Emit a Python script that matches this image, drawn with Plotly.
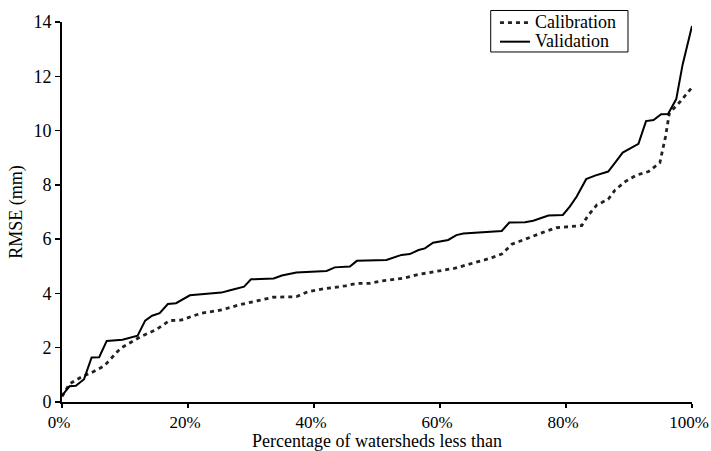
import plotly.graph_objects as go

# Calibration series (percentage of watersheds, RMSE mm)
cal_pct = [0, 1.2, 3.2, 4.5, 6.7, 9.3, 12.5, 14.9, 17.1, 18.9, 22.1, 25.3, 28.0, 30.7, 33.5,
           37.2, 39.1, 41.0, 43.1, 45.0, 46.8, 48.9, 50.7, 52.6, 54.4, 56.6, 58.4, 60.3, 62.4,
           64.2, 66.1, 67.9, 69.8, 71.4, 73.2, 74.8, 76.7, 78.5, 80.4, 82.5, 83.5, 84.9, 86.7,
           87.8, 89.4, 91.2, 93.1, 94.9, 95.8, 96.4, 98.1, 100]
cal_rmse = [0.2, 0.67, 0.94, 1.06, 1.33, 1.98, 2.41, 2.66, 3.0, 3.02, 3.27, 3.39, 3.57, 3.70,
            3.86, 3.88, 4.07, 4.15, 4.21, 4.28, 4.37, 4.37, 4.46, 4.52, 4.57, 4.70, 4.78, 4.85,
            4.93, 5.05, 5.18, 5.29, 5.45, 5.81, 5.97, 6.12, 6.28, 6.42, 6.46, 6.50, 6.87, 7.26,
            7.47, 7.81, 8.12, 8.36, 8.49, 8.82, 9.78, 10.64, 11.06, 11.59]

# Validation series
val_pct = [0, 1.2, 2.2, 3.5, 4.7, 5.9, 7.1, 9.6, 12.0, 13.2, 14.3, 15.5, 16.8, 18.1, 20.3,
           25.3, 26.7, 28.9, 30.0, 33.6, 34.9, 37.2, 42.0, 43.3, 45.7, 46.8, 51.5, 53.9, 55.2,
           56.6, 57.6, 58.9, 61.3, 62.6, 63.7, 66.9, 69.8, 71.0, 73.5, 74.8, 75.9, 77.2, 79.5,
           80.6, 81.7, 83.2, 84.6, 86.7, 87.8, 89.0, 91.5, 92.7, 93.9, 95.1, 96.2, 97.5, 98.5, 100]
val_rmse = [0.24, 0.58, 0.60, 0.84, 1.64, 1.65, 2.25, 2.29, 2.44, 3.0, 3.18, 3.27, 3.61, 3.64,
            3.93, 4.03, 4.12, 4.25, 4.52, 4.55, 4.66, 4.77, 4.83, 4.96, 4.99, 5.2, 5.23, 5.42,
            5.45, 5.60, 5.66, 5.87, 5.97, 6.15, 6.21, 6.25, 6.30, 6.61, 6.62, 6.68, 6.77, 6.87,
            6.89, 7.20, 7.57, 8.21, 8.34, 8.49, 8.82, 9.19, 9.51, 10.35, 10.39, 10.60, 10.61,
            11.16, 12.42, 13.85]

series_names = ["Calibration", "Validation"]
x_ticks = [0, 20, 40, 60, 80, 100]
y_ticks = [0, 2, 4, 6, 8, 10, 12, 14]
x_title = "Percentage of watersheds less than"
y_title = "RMSE (mm)"

FONT = "Liberation Serif, Times New Roman, serif"
CAL_LINE = dict(color="#222222", width=2.8, dash="4px,4px")
VAL_LINE = dict(color="black", width=2)

fig = go.Figure()
fig.add_trace(go.Scatter(x=cal_pct, y=cal_rmse, mode="lines", name=series_names[0],
                         line=CAL_LINE, showlegend=False, hoverinfo="skip"))
fig.add_trace(go.Scatter(x=val_pct, y=val_rmse, mode="lines", name=series_names[1],
                         line=VAL_LINE, showlegend=False, hoverinfo="skip"))

# Compact legend box (Excel-style) drawn in paper coordinates
fig.add_shape(type="rect", xref="paper", yref="paper", x0=0.6805, x1=0.8984, y0=0.9211, y1=1.0303,
              line=dict(color="black", width=1), fillcolor="white", layer="above")
fig.add_shape(type="line", xref="paper", yref="paper", x0=0.6952, x1=0.7429, y0=0.9982, y1=0.9982,
              line=CAL_LINE, layer="above")
fig.add_shape(type="line", xref="paper", yref="paper", x0=0.6952, x1=0.7429, y0=0.9482, y1=0.9482,
              line=VAL_LINE, layer="above")
for name, yy in zip(series_names, [0.9995, 0.9495]):
    fig.add_annotation(x=0.7476, y=yy, xref="paper", yref="paper", text=name, showarrow=False,
                       xanchor="left", yanchor="middle", font=dict(family=FONT, size=18, color="black"))

# X axis title placed at the very bottom of the figure
fig.add_annotation(x=0.5, y=0, xref="paper", yref="paper", text=x_title, showarrow=False,
                   xanchor="center", yanchor="bottom", yshift=-50, borderpad=0,
                   font=dict(family=FONT, size=18, color="black"))

fig.update_layout(
    width=711, height=451,
    margin=dict(l=62, r=19, t=22, b=49, autoexpand=False),
    paper_bgcolor="white", plot_bgcolor="white",
    font=dict(family=FONT, size=18, color="black"),
    showlegend=False,
    xaxis=dict(range=[0, 100], tickvals=x_ticks, ticktext=[f"{v}%" for v in x_ticks],
               showgrid=False, zeroline=False, showline=True, linecolor="black", linewidth=2,
               ticks="outside", ticklen=4, tickcolor="black", tickwidth=1.5,
               tickfont=dict(family=FONT, size=17),
               ticklabeloverflow="allow", ticklabelshift=-3, automargin=False),
    yaxis=dict(range=[0, 14], tickvals=y_ticks, automargin=False,
               showgrid=False, zeroline=False, showline=True, linecolor="black", linewidth=2,
               ticks="outside", ticklen=5, tickcolor="black", tickwidth=1.5,
               title=dict(text=y_title, standoff=6, font=dict(family=FONT, size=18))),
)

fig.write_html("out.html", config={"displayModeBar": False, "staticPlot": True},
               post_script="document.body.style.margin='0';")
